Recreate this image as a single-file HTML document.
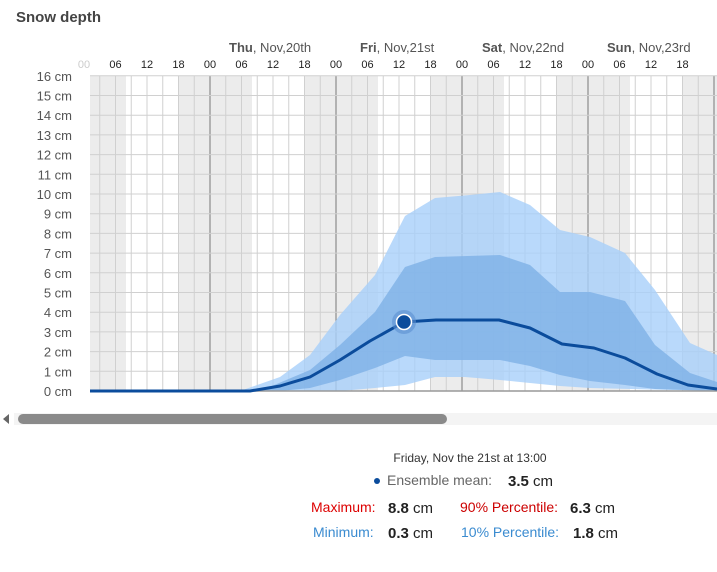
<!DOCTYPE html><html><head><style>body{margin:0;background:#fff;width:717px;height:572px;overflow:hidden;font-family:"Liberation Sans",sans-serif}</style></head><body>
<svg width="717" height="572" xmlns="http://www.w3.org/2000/svg" style="position:absolute;left:0;top:0">
<text x="16" y="22" font-size="15" font-weight="bold" fill="#444">Snow depth</text>
<g id="bands"></g>
<g id="grid"></g>
<g font-size="13" fill="#555" text-anchor="end" id="ylab"></g>
<g font-size="11" fill="#222" text-anchor="middle" id="xlab"></g>
<g font-size="13" fill="#555">
<text x="229" y="52"><tspan font-weight="bold">Thu</tspan>, Nov,20th</text>
<text x="360" y="52"><tspan font-weight="bold">Fri</tspan>, Nov,21st</text>
<text x="482" y="52"><tspan font-weight="bold">Sat</tspan>, Nov,22nd</text>
<text x="607" y="52"><tspan font-weight="bold">Sun</tspan>, Nov,23rd</text>
</g>
<polygon fill="#a8d0fa" fill-opacity="0.8" points="240,391 280,377 310,355 340,315 375,275 405,216 435,198 470,195 500,192 530,205 560,230 590,237 625,253 655,290 690,343 717,355 717,391 590,388 560,386 530,383 500,380 465,377 435,377 405,385 375,388 340,391"/>
<polygon fill="#7eb0e6" fill-opacity="0.8" points="260,391 310,370 340,345 375,312 405,267 435,257 500,255 530,265 560,292 590,292 625,301 655,345 690,373 717,382 717,391 655,389 625,385 590,381 560,375 530,366 500,360 435,360 405,356 375,368 340,380 310,388 280,391"/>
<line x1="90" y1="391" x2="717" y2="391" stroke="#999" stroke-width="1.5"/>
<polyline fill="none" stroke="#0b4c9c" stroke-width="3" stroke-linejoin="round" points="90,391 250,391 280,386 310,377 340,360 370,341 404,322 436,320 499,320 530,328 562,344 594,348 625,358 657,374 688,385 717,389"/>
<circle cx="404" cy="322" r="12" fill="#5b8fd0" fill-opacity="0.6"/>
<circle cx="404" cy="322" r="7.5" fill="#0b4c9c" stroke="#fff" stroke-width="1.5"/>
<path d="M9,414 L9,424 L3,419 Z" fill="#666"/>
<rect x="14" y="413" width="703" height="12" fill="#f4f4f4"/>
<rect x="18" y="414" width="429" height="10" rx="5" fill="#8a8a8a"/>
<text x="470" y="462" font-size="12" fill="#333" text-anchor="middle">Friday, Nov the 21st at 13:00</text>
<circle cx="377" cy="481" r="3" fill="#0b4c9c"/>
<text x="387" y="485" font-size="14" fill="#666">Ensemble mean:</text><text x="508" y="486" font-size="15" fill="#222"><tspan font-weight="bold">3.5</tspan> cm</text>
<text x="311" y="512" font-size="14" fill="#d00">Maximum:</text><text x="388" y="513" font-size="15" fill="#222"><tspan font-weight="bold">8.8</tspan> cm</text>
<text x="460" y="512" font-size="14" fill="#c00">90% Percentile:</text><text x="570" y="513" font-size="15" fill="#222"><tspan font-weight="bold">6.3</tspan> cm</text>
<text x="313" y="537" font-size="14" fill="#3a8bd0">Minimum:</text><text x="388" y="538" font-size="15" fill="#222"><tspan font-weight="bold">0.3</tspan> cm</text>
<text x="461" y="537" font-size="14" fill="#3a8bd0">10% Percentile:</text><text x="573" y="538" font-size="15" fill="#222"><tspan font-weight="bold">1.8</tspan> cm</text>
</svg>
<script>
(function(){
var ns="http://www.w3.org/2000/svg";
function el(p,t,a,txt){var e=document.createElementNS(ns,t);for(var k in a)e.setAttribute(k,a[k]);if(txt)e.textContent=txt;document.getElementById(p).appendChild(e);}
var x0=84,s=5.25,yT=76,yB=391;
for(var d=0;d<6;d++){var b=x0+d*126;var a1=Math.max(90,b-6*s),a2=Math.min(b+8*s,717);if(a2>a1)
 el("bands","rect",{x:a1,y:yT,width:a2-a1,height:yB-yT,fill:"#ececec"});}
for(var t=0;t<=120;t+=3){var x=x0+t*s;if(x<90||x>717)continue;
 el("grid","line",{x1:x,y1:yT,x2:x,y2:yB,stroke:(t%24==0)?"#777":"#d0d0d0","stroke-width":1});}
for(var c=0;c<=16;c++){var y=yB-c*19.7;el("grid","line",{x1:90,y1:y,x2:717,y2:y,stroke:"#d0d0d0"});
 el("ylab","text",{x:72,y:y+5},c+" cm");}
var L=["00","06","12","18"];
for(var t=0;t<=120;t+=6){var x=x0+t*s;if(x>712)continue;el("xlab","text",{x:x,y:68,fill:t==0?"#ccc":"#222"},L[(t/6)%4]);}
})();
</script>
</body></html>
